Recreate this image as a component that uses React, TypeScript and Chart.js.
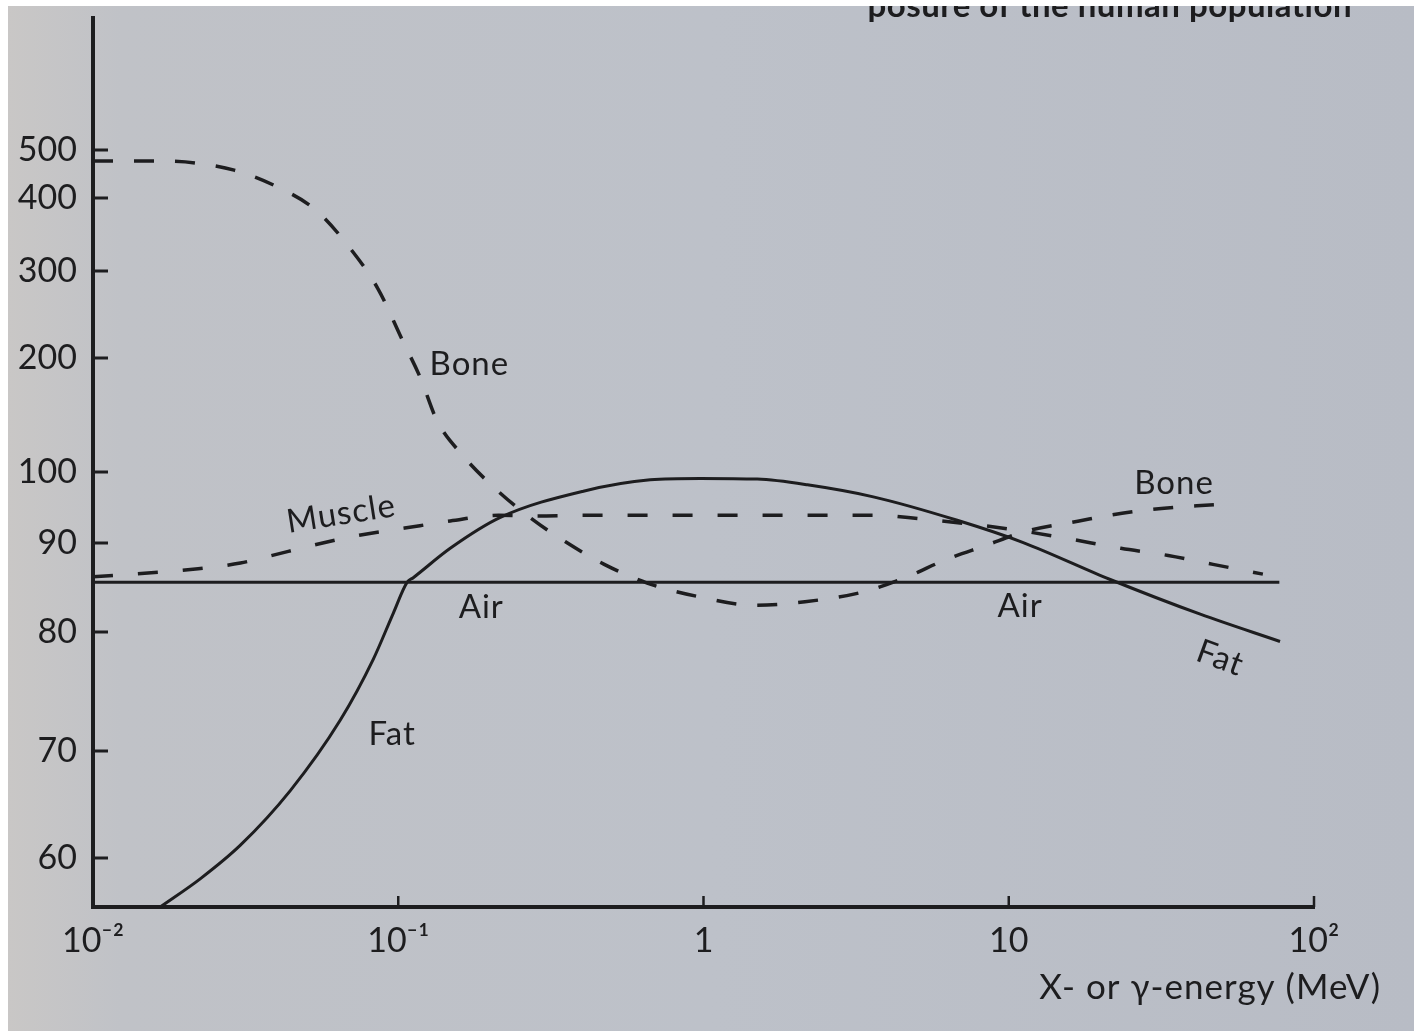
import React, { useEffect, useRef } from 'react';
import { Chart, registerables, LinearScale } from 'chart.js';

// ---------- data ----------
const energyTicks = [0.01, 0.1, 1, 10, 100];
const energyTickLabels = ['10⁻²', '10⁻¹', '1', '10', '10²'];
const ratioTicks = [60, 70, 80, 90, 100, 200, 300, 400, 500];
const ratioTickLabels = ['60', '70', '80', '90', '100', '200', '300', '400', '500'];

const airEnergy = [0.01, 77];
const airValue = [85.6, 85.6];

const boneEnergy = [0.01, 0.0164, 0.0216, 0.029, 0.0402, 0.0535, 0.0681, 0.086, 0.103, 0.118, 0.134, 0.162, 0.205, 0.27, 0.352, 0.473, 0.654, 0.954, 1.47, 2.15, 3.33, 4.65, 6.19, 8.37, 11.3, 17.0, 23.5, 32.3, 47];
const boneValue = [477, 477, 473, 458, 423, 384, 336, 279, 221, 183, 145, 115, 97.9, 93.6, 90.2, 87.6, 85.5, 84.0, 83.0, 83.4, 84.5, 86.2, 88.1, 89.7, 91.6, 93.1, 94.2, 94.9, 95.4];

const muscleEnergy = [0.01, 0.0221, 0.0304, 0.0381, 0.0527, 0.0745, 0.105, 0.148, 0.213, 0.281, 0.41, 0.562, 0.76, 1.08, 1.55, 2.25, 3.71, 5.13, 7.36, 10.9, 15.7, 23.3, 33.3, 46.7, 68];
const muscleValue = [86.2, 87.1, 87.75, 88.55, 89.75, 91.1, 92.1, 93.1, 93.9, 93.8, 93.9, 93.9, 93.9, 93.9, 93.9, 93.9, 93.9, 93.4, 92.7, 91.75, 90.6, 89.4, 88.6, 87.6, 86.5];

const fatEnergy = [0.0166, 0.0225, 0.0304, 0.0443, 0.0646, 0.0828, 0.0963, 0.107, 0.112, 0.148, 0.216, 0.404, 0.669, 0.975, 1.5, 2.19, 3.6, 6.78, 11.1, 21.5, 42.4, 77.4];
const fatValue = [55, 57.9, 61.2, 66.3, 72.6, 77.7, 82.1, 85.6, 86.1, 89.4, 93.6, 97.3, 98.9, 99.1, 99.0, 98.2, 96.5, 93.2, 90.1, 85.9, 82.0, 79.2];

const curveLabels = [
  { text: 'Bone', energy: 0.171, value: 194, rot: 0 },
  { text: 'Bone', energy: 34.8, value: 98.4, rot: 0 },
  { text: 'Muscle', energy: 0.065, value: 94.1, rot: -9 },
  { text: 'Air', energy: 0.187, value: 82.8, rot: 0 },
  { text: 'Air', energy: 10.9, value: 82.9, rot: 0 },
  { text: 'Fat', energy: 0.0955, value: 71.4, rot: 0 },
  { text: 'Fat', energy: 49.3, value: 77.8, rot: 20 },
];

const xTitle = 'X- or γ-energy (MeV)';
const headerText = 'posure of the human population';

// ---------- broken (piecewise) vertical scale geometry ----------
const Y_MIN = 55;
const Y_MAX = 800;
const anchorValues = [55, 60, 70, 80, 90, 100, 200, 300, 400, 500, 800];
const anchorFractions = [0, 0.05512, 0.17548, 0.30934, 0.40945, 0.48931, 0.61755, 0.71541, 0.79753, 0.85152, 1];

function valueToFraction(v: number): number {
  const n = anchorValues.length;
  if (v <= anchorValues[0]) {
    const s = (anchorFractions[1] - anchorFractions[0]) / (anchorValues[1] - anchorValues[0]);
    return anchorFractions[0] + (v - anchorValues[0]) * s;
  }
  for (let i = 1; i < n; i++) {
    if (v <= anchorValues[i]) {
      const t = (v - anchorValues[i - 1]) / (anchorValues[i] - anchorValues[i - 1]);
      return anchorFractions[i - 1] + t * (anchorFractions[i] - anchorFractions[i - 1]);
    }
  }
  const s = (anchorFractions[n - 1] - anchorFractions[n - 2]) / (anchorValues[n - 1] - anchorValues[n - 2]);
  return anchorFractions[n - 1] + (v - anchorValues[n - 1]) * s;
}
function fractionToValue(f: number): number {
  const n = anchorFractions.length;
  for (let i = 1; i < n; i++) {
    if (f <= anchorFractions[i]) {
      const t = (f - anchorFractions[i - 1]) / (anchorFractions[i] - anchorFractions[i - 1]);
      return anchorValues[i - 1] + t * (anchorValues[i] - anchorValues[i - 1]);
    }
  }
  return anchorValues[n - 1];
}

class PiecewiseScale extends LinearScale {
  static id = 'piecewise';
  static defaults = LinearScale.defaults;
  getPixelForValue(value: any) {
    if (value === null || value === undefined || isNaN(value)) return NaN;
    return this.getPixelForDecimal(valueToFraction(+value));
  }
  getValueForPixel(pixel: number) {
    return fractionToValue(this.getDecimalForPixel(pixel));
  }
}

Chart.register(...registerables, PiecewiseScale as any);

const INK = '#1d1d1f';
const FONT = 'Lato, "Open Sans", sans-serif';

const pts = (xs: number[], ys: number[]) => xs.map((x, i) => ({ x, y: ys[i] }));

const bgPlugin = {
  id: 'paperBg',
  beforeDraw(chart: any) {
    const { ctx, width, height } = chart;
    ctx.save();
    const g = ctx.createLinearGradient(0, 0, width, 0);
    g.addColorStop(0, '#c9c7c6');
    g.addColorStop(0.08, '#c0c2c7');
    g.addColorStop(0.5, '#bdc1c9');
    g.addColorStop(1, '#b8bcc5');
    ctx.fillStyle = g;
    ctx.fillRect(0, 0, width, height);
    ctx.restore();
  },
};

const decorPlugin = {
  id: 'decor',
  afterDraw(chart: any) {
    const { ctx, chartArea } = chart;
    const xs = chart.scales.x;
    const ys = chart.scales.y;
    ctx.save();
    ctx.strokeStyle = INK;
    ctx.lineCap = 'butt';
    // inward y tick marks
    ctx.lineWidth = 3;
    ratioTicks.forEach((v) => {
      const py = ys.getPixelForValue(v);
      ctx.beginPath();
      ctx.moveTo(chartArea.left, py);
      ctx.lineTo(chartArea.left + 15, py);
      ctx.stroke();
    });
    // upward x tick marks
    ctx.lineWidth = 2.5;
    energyTicks.slice(1).forEach((e) => {
      const px = xs.getPixelForValue(e);
      ctx.beginPath();
      ctx.moveTo(px, chartArea.bottom);
      ctx.lineTo(px, chartArea.bottom - 11);
      ctx.stroke();
    });
    // curve labels
    ctx.fillStyle = INK;
    ctx.font = `33px ${FONT}`;
    (ctx as any).letterSpacing = '1px';
    ctx.textAlign = 'center';
    ctx.textBaseline = 'middle';
    curveLabels.forEach((l) => {
      const px = xs.getPixelForValue(l.energy);
      const py = ys.getPixelForValue(l.value);
      ctx.save();
      ctx.translate(px, py);
      ctx.rotate((l.rot * Math.PI) / 180);
      ctx.fillText(l.text, 0, 0);
      ctx.restore();
    });
    // x axis title
    ctx.font = `35px ${FONT}`;
    (ctx as any).letterSpacing = '1px';
    ctx.textAlign = 'right';
    ctx.textBaseline = 'alphabetic';
    ctx.fillText(xTitle, chartArea.right + 67, chartArea.bottom + 92);
    // cut-off running header of the page
    ctx.font = `bold 33px ${FONT}`;
    (ctx as any).letterSpacing = '0.5px';
    ctx.fillText(headerText, chartArea.right + 38, 11);
    ctx.restore();
  },
};

export default function App() {
  const ref = useRef<HTMLCanvasElement | null>(null);
  useEffect(() => {
    if (!ref.current) return;
    const lineBase = {
      borderColor: INK,
      pointRadius: 0,
      pointHoverRadius: 0,
      fill: false,
      cubicInterpolationMode: 'monotone' as const,
    };
    const chart = new Chart(ref.current, {
      type: 'line',
      data: {
        datasets: [
          { ...lineBase, label: 'Air', data: pts(airEnergy, airValue), borderWidth: 3 },
          { ...lineBase, label: 'Fat', data: pts(fatEnergy, fatValue), borderWidth: 3 },
          { ...lineBase, label: 'Muscle', data: pts(muscleEnergy, muscleValue), borderWidth: 3.5, borderDash: [20, 25] },
          { ...lineBase, label: 'Bone', data: pts(boneEnergy, boneValue), borderWidth: 3.5, borderDash: [20, 21] },
        ],
      },
      options: {
        animation: false,
        responsive: false,
        events: [],
        layout: { padding: { top: 12, right: 100, left: 0, bottom: 0 } },
        plugins: { legend: { display: false }, tooltip: { enabled: false } },
        scales: {
          x: {
            type: 'logarithmic',
            min: 0.01,
            max: 100,
            afterBuildTicks: (s: any) => {
              s.ticks = energyTicks.map((v) => ({ value: v }));
            },
            afterFit: (s: any) => {
              s.height = 124;
              s.paddingLeft = 0;
              s.paddingRight = 0;
            },
            grid: { display: true, drawOnChartArea: false, drawTicks: false },
            border: { display: true, color: INK, width: 4 },
            ticks: {
              autoSkip: false,
              maxRotation: 0,
              padding: 14,
              color: INK,
              font: { family: FONT, size: 34 },
              callback: (_v: any, i: number) => energyTickLabels[i],
            },
          },
          y: {
            type: 'piecewise' as any,
            min: Y_MIN,
            max: Y_MAX,
            afterBuildTicks: (s: any) => {
              s.ticks = ratioTicks.map((v) => ({ value: v }));
            },
            afterFit: (s: any) => {
              s.width = 85;
              s.paddingTop = 0;
              s.paddingBottom = 0;
            },
            grid: { display: true, drawOnChartArea: false, drawTicks: false },
            border: { display: true, color: INK, width: 4 },
            ticks: {
              autoSkip: false,
              padding: 16,
              color: INK,
              font: { family: FONT, size: 34 },
              callback: (_v: any, i: number) => ratioTickLabels[i],
            },
          },
        },
      } as any,
      plugins: [bgPlugin, decorPlugin],
    });
    return () => chart.destroy();
  }, []);
  return (
    <div style={{ position: 'fixed', left: 8, top: 6, width: 1406, height: 1025 }}>
      <canvas ref={ref} width={1406} height={1025} />
    </div>
  );
}
